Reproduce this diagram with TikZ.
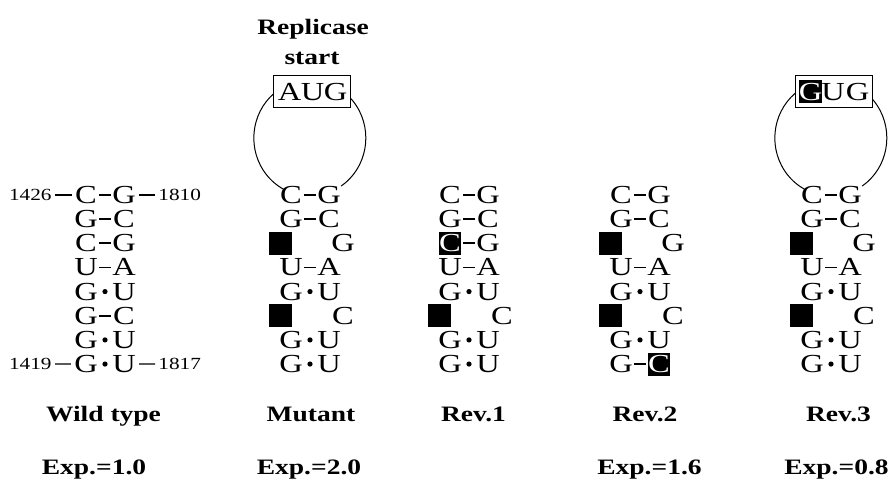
\documentclass[tikz,border=0pt]{standalone}
\usepackage{fontspec}
\setmainfont{Liberation Serif}[FakeStretch=1.25]

\begin{document}
\begin{tikzpicture}[x=0.5pt,y=0.5pt,
    base/.style={font=\fontsize{13}{13}\selectfont, inner sep=0pt, text height=8.5pt, text depth=0pt},
    hole/.style={fill=black, minimum width=11.5pt, minimum height=11.5pt},
    inv/.style={fill=black, text=white, minimum width=10.5pt, minimum height=11.5pt},
    % placement of the two bases of a row, one pair of styles per bond kind
    wcL/.style={xshift=-9.5pt}, wcR/.style={xshift=9.5pt},
    guL/.style={wcL}, guR/.style={wcR},
    mmL/.style={xshift=-15pt, hole}, mmR/.style={xshift=16.5pt},
    xlL/.style={wcL, inv}, xlR/.style={wcR},
    xrL/.style={wcL}, xrR/.style={wcR, inv},
    % the bond mark itself
    wc/.style={fill=black, inner sep=0pt, minimum width=6pt, minimum height=0.85pt},
    gu/.style={circle, fill=black, inner sep=0pt, minimum size=2.6pt},
    xl/.style={wc}, xr/.style={wc}, mm/.style={coordinate},
    num/.style={font=\fontsize{8.5}{8.5}\selectfont, inner sep=0pt, text height=5.8pt, text depth=0pt},
    tick/.style={line width=0.7pt, shorten <=1.5pt, shorten >=1.5pt},
    hairpin/.style={line width=0.5pt},
    codon/.style={draw, line width=0.5pt, fill=white, minimum width=38.5pt, minimum height=16pt, inner sep=0pt},
    title/.style={font=\fontsize{11}{11}\selectfont\bfseries, anchor=base},
    caption/.style={font=\fontsize{11}{11}\selectfont\bfseries, anchor=base}
  ]
    \useasboundingbox (0,0) rectangle (893,-481);

    % stems: name / centre / rows (left base / bond / right base)
    \foreach \s/\mx/\rows in {
        wt/105/{C/wc/G, G/wc/C, C/wc/G, U/wc/A, G/gu/U, G/wc/C, G/gu/U, G/gu/U},
        mut/310/{C/wc/G, G/wc/C, {}/mm/G, U/wc/A, G/gu/U, {}/mm/C, G/gu/U, G/gu/U},
        rev1/469/{C/wc/G, G/wc/C, C/xl/G, U/wc/A, G/gu/U, {}/mm/C, G/gu/U, G/gu/U},
        rev2/640/{C/wc/G, G/wc/C, {}/mm/G, U/wc/A, G/gu/U, {}/mm/C, G/gu/U, G/xr/C},
        rev3/831/{C/wc/G, G/wc/C, {}/mm/G, U/wc/A, G/gu/U, {}/mm/C, G/gu/U, G/gu/U}} {
      \foreach \lt/\bd/\rt [count=\i] in \rows {
        \node[base, \bd L] (\s-l\i) at (\mx, {-195-24.15*(\i-1)}) {\lt};
        \node[base, \bd R] (\s-r\i) at (\mx, {-195-24.15*(\i-1)}) {\rt};
        \path (\s-l\i) -- node[\bd] {} (\s-r\i);
      }
    }

    % numbering of the wild type stem
    \node[num, anchor=east] (n1426) at (52,-195) {1426};
    \node[num, anchor=west] (n1810) at (158,-195) {1810};
    \node[num, anchor=east] (n1419) at (52,-364) {1419};
    \node[num, anchor=west] (n1817) at (158,-364) {1817};
    \draw[tick] (n1426) -- (wt-l1);
    \draw[tick] (wt-r1) -- (n1810);
    \draw[tick] (n1419) -- (wt-l8);
    \draw[tick] (wt-r8) -- (n1817);

    % loops with the start codon
    \node[title] (rep) at (313,-35) {Replicase};
    \node[title] (start) at (312,-65) {start};
    \draw[hairpin] (mut-r1.north east) arc[start angle=-56, end angle=242, x radius=56, y radius=58];
    \node[codon] (aug) at (311.5,-92) {};
    \foreach \c [count=\k] in {A,U,G} \node[base] (aug\k) at (266.5+23*\k,-92) {\c};

    \draw[hairpin] (rev3-r1.north east) arc[start angle=-56, end angle=242, x radius=56, y radius=58];
    \node[codon] (gug) at (833.5,-92) {};
    \node[base, inv] (gug1) at (810.5,-92) {G};
    \node[base] (gug2) at (833,-92) {U};
    \node[base] (gug3) at (857.5,-92) {G};

    % names and expression levels
    \node[caption] (wtname) at (103.5,-421) {Wild type};
    \node[caption] (mutname) at (311,-421) {Mutant};
    \node[caption] (rev1name) at (473.5,-421) {Rev.1};
    \node[caption] (rev2name) at (645,-421) {Rev.2};
    \node[caption] (rev3name) at (838.5,-421) {Rev.3};
    \node[caption] (wtexp) at (94,-474) {Exp.=1.0};
    \node[caption] (mutexp) at (309,-474) {Exp.=2.0};
    \node[caption] (rev2exp) at (649.5,-474) {Exp.=1.6};
    \node[caption] (rev3exp) at (836.5,-474) {Exp.=0.8};
  \end{tikzpicture}
\end{document}
